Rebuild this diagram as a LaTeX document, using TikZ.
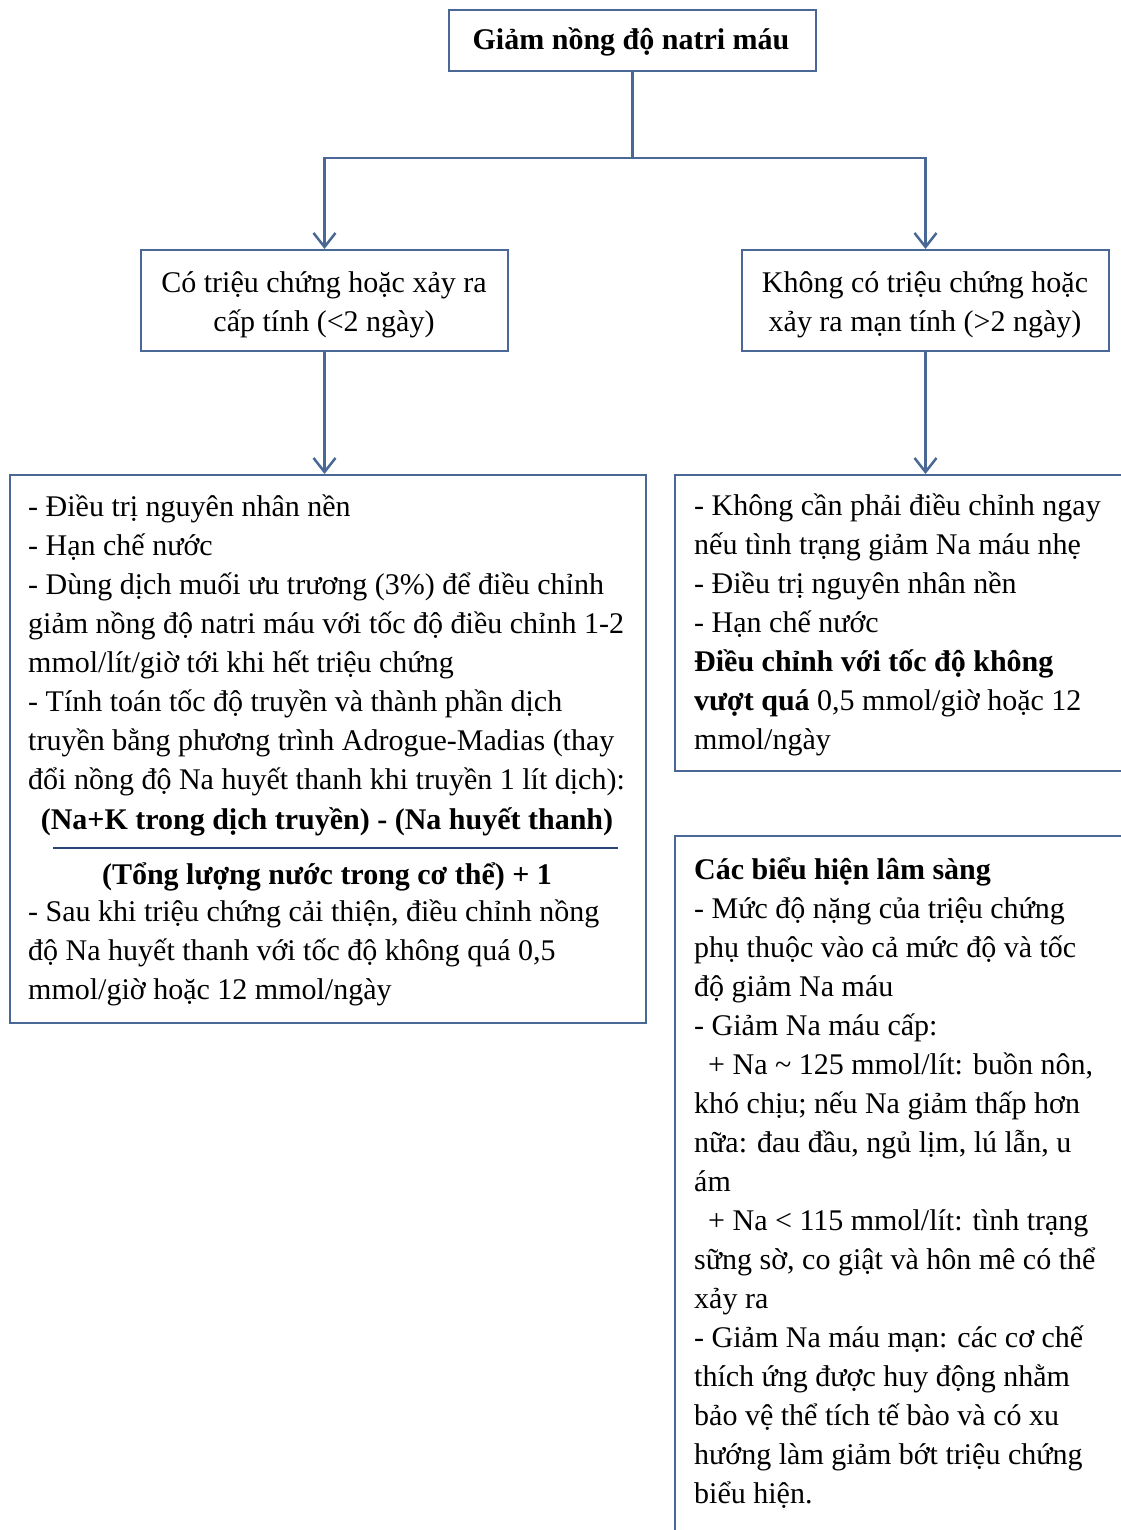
\documentclass[tikz,border=0pt]{standalone}
\usepackage{fontspec}
\setmainfont{Liberation Serif}
\usetikzlibrary{arrows.meta}
\definecolor{edge}{RGB}{74,104,150}
\definecolor{rulec}{RGB}{40,70,120}
% stacked lines with a fixed distance between baselines; the first baseline is the box baseline
\newcommand\leftlines[2]{\vtop{\baselineskip=#1\lineskiplimit=-100pt\lineskip=0pt
  \halign{##\hfil\cr#2\crcr}}}
\newcommand\midlines[2]{\vtop{\baselineskip=#1\lineskiplimit=-100pt\lineskip=0pt
  \halign{\hfil##\hfil\cr#2\crcr}}}
\begin{document}
\begin{tikzpicture}[x=1pt,y=-1pt,
  box/.style={draw=edge,line width=2pt,rectangle,inner sep=0pt,anchor=north west},
  body/.style={font=\fontsize{30}{39}\selectfont,inner sep=0pt,anchor=base west},
  ctext/.style={font=\fontsize{30}{39}\selectfont,inner sep=0pt,anchor=base},
  btext/.style={ctext,font=\fontsize{30}{39}\selectfont\bfseries},
  link/.style={draw=edge,line width=2.5pt},
  arrow/.style={link,-{Straight Barb[length=14pt,width=22pt,line width=2.5pt]}}]
\useasboundingbox (0,0) rectangle (1120,1530);

% title
\node[box,minimum width=367pt,minimum height=61pt] (top) at (448,9) {};
\node[btext] (toptxt) at (631,50) {Giảm nồng độ natri máu};

% second row
\node[box,minimum width=367pt,minimum height=101pt] (acute) at (140,249) {};
\node[ctext] (acutetxt) at (324,292) {\midlines{39pt}{Có triệu chứng hoặc xảy ra\cr cấp tính (<2 ngày)}};
\node[box,minimum width=367pt,minimum height=101pt] (chronic) at (741,249) {};
\node[ctext] (chronictxt) at (925,292) {\midlines{39pt}{Không có triệu chứng hoặc\cr xảy ra mạn tính (>2 ngày)}};

% treatment, acute branch
\node[box,minimum width=636pt,minimum height=548pt] (treatA) at (9,474) {};
\node[body] (treatAa) at (28,516) {\leftlines{39pt}{- Điều trị nguyên nhân nền\cr
- Hạn chế nước\cr
- Dùng dịch muối ưu trương (3\%) để điều chỉnh\cr
giảm nồng độ natri máu với tốc độ điều chỉnh 1-2\cr
mmol/lít/giờ tới khi hết triệu chứng\cr
- Tính toán tốc độ truyền và thành phần dịch\cr
truyền bằng phương trình Adrogue-Madias (thay\cr
đổi nồng độ Na huyết thanh khi truyền 1 lít dịch):}};
\node[btext] (num) at (327,829) {(Na+K trong dịch truyền) - (Na huyết thanh)};
\coordinate (ruleL) at (53,848);
\coordinate (ruleR) at (618,848);
\draw[draw=rulec,line width=2.5pt] (ruleL) -- (ruleR);
\node[btext] (den) at (327,884) {(Tổng lượng nước trong cơ thể) + 1};
\node[body] (treatAb) at (28,921) {\leftlines{39pt}{- Sau khi triệu chứng cải thiện, điều chỉnh nồng\cr
độ Na huyết thanh với tốc độ không quá 0,5\cr
mmol/giờ hoặc 12 mmol/ngày}};

% treatment, chronic branch
\node[box,minimum width=460pt,minimum height=296pt] (treatC) at (674,474) {};
\node[body] (treatCtxt) at (694,515) {\leftlines{39pt}{- Không cần phải điều chỉnh ngay\cr
nếu tình trạng giảm Na máu nhẹ\cr
- Điều trị nguyên nhân nền\cr
- Hạn chế nước\cr
\textbf{Điều chỉnh với tốc độ không}\cr
\textbf{vượt quá} 0,5 mmol/giờ hoặc 12\cr
mmol/ngày}};

% clinical signs
\node[box,minimum width=460pt,minimum height=720pt] (signs) at (674,835) {};
\node[body] (signstxt) at (694,879) {\leftlines{39pt}{\textbf{Các biểu hiện lâm sàng}\cr
- Mức độ nặng của triệu chứng\cr
phụ thuộc vào cả mức độ và tốc\cr
độ giảm Na máu\cr
- Giảm Na máu cấp:\cr
\hspace*{14pt}+ Na \textasciitilde{} 125 mmol/lít: buồn nôn,\cr
khó chịu; nếu Na giảm thấp hơn\cr
nữa: đau đầu, ngủ lịm, lú lẫn, u\cr
ám\cr
\hspace*{14pt}+ Na < 115 mmol/lít: tình trạng\cr
sững sờ, co giật và hôn mê có thể\cr
xảy ra\cr
- Giảm Na máu mạn: các cơ chế\cr
thích ứng được huy động nhằm\cr
bảo vệ thể tích tế bào và có xu\cr
hướng làm giảm bớt triệu chứng\cr
biểu hiện.}};

% connectors
\coordinate (fork) at (top.south |- 0,158);
\draw[link] (top.south) -- (fork);
\draw[arrow] (fork) -| (acute.north);
\draw[arrow] (fork) -| (chronic.north);
\draw[arrow] (acute.south) -- (acute.south |- treatA.north);
\draw[arrow] (chronic.south) -- (chronic.south |- treatC.north);
\end{tikzpicture}
\end{document}
